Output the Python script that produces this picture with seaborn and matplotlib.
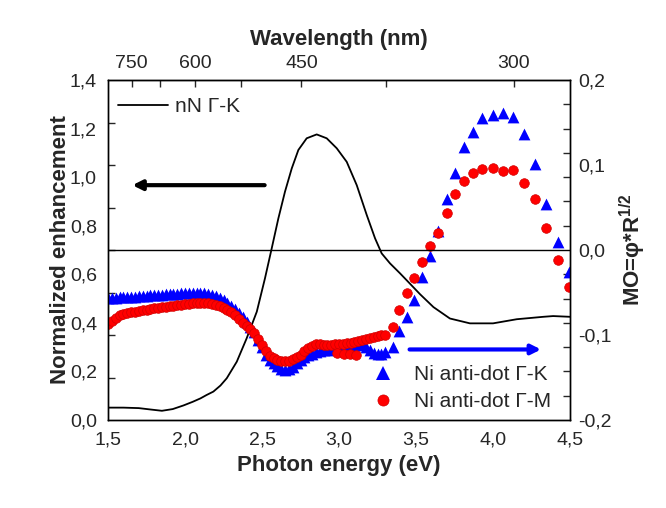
import numpy as np
import seaborn as sns
import matplotlib.pyplot as plt
from matplotlib.lines import Line2D
from matplotlib.ticker import FuncFormatter, FixedLocator, MultipleLocator

# black curve, nN Г-K, normalized enhancement (left axis)
e_black = [1.50, 1.60, 1.70, 1.78, 1.85, 1.92, 1.99, 2.05, 2.10, 2.14, 2.184, 2.23,
           2.271, 2.336, 2.40, 2.466, 2.519, 2.563, 2.606, 2.649, 2.693, 2.736, 2.79,
           2.855, 2.92, 2.985, 3.05, 3.115, 3.18, 3.234, 3.277, 3.331, 3.396, 3.44,
           3.526, 3.613, 3.72, 3.85, 4.00, 4.154, 4.327, 4.39, 4.50]
enh_black = [0.051, 0.051, 0.049, 0.043, 0.038, 0.045, 0.060, 0.075, 0.089, 0.103, 0.117, 0.142,
             0.172, 0.240, 0.336, 0.446, 0.583, 0.707, 0.830, 0.940, 1.036, 1.112, 1.160,
             1.176, 1.160, 1.119, 1.063, 0.967, 0.844, 0.748, 0.686, 0.645, 0.604, 0.575,
             0.518, 0.465, 0.418, 0.398, 0.398, 0.415, 0.425, 0.428, 0.425]

# dense part of the MO data (1.5 - 3.275 eV)
e_dense = [1.500, 1.525, 1.550, 1.575, 1.600, 1.625, 1.650, 1.675, 1.700, 1.725, 1.750, 1.775,
           1.800, 1.825, 1.850, 1.875, 1.900, 1.925, 1.950, 1.975, 2.000, 2.025, 2.050, 2.075,
           2.100, 2.125, 2.150, 2.175, 2.200, 2.225, 2.250, 2.275, 2.300, 2.325, 2.350, 2.375,
           2.400, 2.425, 2.450, 2.475, 2.500, 2.525, 2.550, 2.575, 2.600, 2.625, 2.650, 2.675,
           2.700, 2.725, 2.750, 2.775, 2.800, 2.825, 2.850, 2.875, 2.900, 2.925, 2.950, 2.975,
           3.000, 3.025, 3.050, 3.075, 3.100, 3.125, 3.150, 3.175, 3.200, 3.225, 3.250, 3.275]
mo_k_dense = [-0.0560, -0.0560, -0.0560, -0.0558, -0.0555, -0.0552, -0.0550, -0.0548, -0.0545, -0.0542, -0.0540, -0.0535,
              -0.0532, -0.0530, -0.0525, -0.0520, -0.0518, -0.0515, -0.0512, -0.0510, -0.0508, -0.0506, -0.0505, -0.0505,
              -0.0506, -0.0510, -0.0518, -0.0530, -0.0545, -0.0565, -0.0590, -0.0620, -0.0655, -0.0695, -0.0740, -0.0790,
              -0.0845, -0.0900, -0.0970, -0.1060, -0.1145, -0.1235, -0.1295, -0.1335, -0.1370, -0.1395, -0.1410, -0.1405,
              -0.1375, -0.1330, -0.1290, -0.1260, -0.1235, -0.1220, -0.1205, -0.1190, -0.1180, -0.1175, -0.1170, -0.1165,
              -0.1160, -0.1155, -0.1150, -0.1130, -0.1115, -0.1110, -0.1120, -0.1140, -0.1180, -0.1210, -0.1225, -0.1220]
mo_m_dense = [-0.0870, -0.0840, -0.0800, -0.0765, -0.0755, -0.0745, -0.0735, -0.0725, -0.0718, -0.0710, -0.0702, -0.0695,
              -0.0688, -0.0680, -0.0672, -0.0665, -0.0660, -0.0655, -0.0650, -0.0642, -0.0635, -0.0630, -0.0625, -0.0620,
              -0.0620, -0.0620, -0.0625, -0.0635, -0.0645, -0.0660, -0.0680, -0.0705, -0.0735, -0.0770, -0.0810, -0.0855,
              -0.0895, -0.0935, -0.0980, -0.1045, -0.1120, -0.1190, -0.1245, -0.1270, -0.1295, -0.1308, -0.1310, -0.1300,
              -0.1285, -0.1260, -0.1230, -0.1190, -0.1155, -0.1130, -0.1110, -0.1110, -0.1115, -0.1120, -0.1115, -0.1105,
              -0.1105, -0.1100, -0.1095, -0.1090, -0.1080, -0.1065, -0.1055, -0.1048, -0.1040, -0.1025, -0.1010, -0.1000]

# sparse part (5 nm steps)
e_sparse = [3.299, 3.349, 3.392, 3.440, 3.487, 3.539, 3.591, 3.643, 3.699, 3.753, 3.812,
            3.870, 3.931, 3.998, 4.063, 4.128, 4.199, 4.271, 4.346, 4.424, 4.496]
mo_k_sparse = [-0.1200, -0.1145, -0.0948, -0.0790, -0.0588, -0.0315, -0.0073, 0.0227, 0.0600, 0.0910, 0.1217,
               0.1390, 0.1557, 0.1585, 0.1616, 0.1569, 0.1370, 0.1015, 0.0536, 0.0097, -0.0263]
mo_m_sparse = [-0.0995, -0.0900, -0.0710, -0.0508, -0.0330, -0.0145, 0.0045, 0.0200, 0.0433, 0.0655, 0.0813,
               0.0904, 0.0955, 0.0959, 0.0928, 0.0940, 0.0786, 0.0600, 0.0260, -0.0116, -0.0440]

# a few Г-M points lying below the main branch around 3.0-3.1 eV
e_m_extra = [2.985, 3.030, 3.070, 3.110]
mo_m_extra = [-0.1210, -0.1220, -0.1225, -0.1235]

wl_major = [750, 600, 450, 300]
wl_minor = [675, 525, 375]

sns.set_style('white')
plt.rcParams['font.family'] = ['Liberation Sans', 'DejaVu Sans']
plt.rcParams['mathtext.fontset'] = 'custom'
plt.rcParams['mathtext.rm'] = 'Liberation Sans'
plt.rcParams['mathtext.bf'] = 'Liberation Sans:bold'

fig = plt.figure(figsize=(6.66, 5.08), dpi=100)
ax = fig.add_axes([0.1622, 0.1732, 0.6937, 0.6693])
ax2 = ax.twinx()

sns.lineplot(x=e_black, y=enh_black, ax=ax, color='black', lw=1.3)
ax2.axhline(0, color='black', lw=1)

e_k = e_dense + e_sparse
mo_k = mo_k_dense + mo_k_sparse
e_m = e_dense + e_sparse + e_m_extra
mo_m = mo_m_dense + mo_m_sparse + mo_m_extra

sns.scatterplot(x=e_k, y=mo_k, ax=ax2, marker='^', color='#0000ff', s=72, linewidth=0)
sns.scatterplot(x=e_m, y=mo_m, ax=ax2, marker='o', color='#ff0000', s=48,
                edgecolor='#d00000', linewidth=0.5)

ax.set_xlim(1.5, 4.5)
ax.set_ylim(0, 1.4)
ax2.set_ylim(-0.2, 0.2)

comma = FuncFormatter(lambda v, p: f'{v:.1f}'.replace('.', ','))

ax.xaxis.set_major_locator(MultipleLocator(0.5))
ax.xaxis.set_minor_locator(MultipleLocator(0.25))
ax.xaxis.set_major_formatter(comma)
ax.tick_params(axis='x', which='both', direction='in', length=5, width=1, labelsize=14, pad=8, top=False)

ax.set_yticks(np.arange(0, 1.41, 0.2))
ax.yaxis.set_major_formatter(comma)
ax.yaxis.set_minor_locator(FixedLocator(np.linspace(0, 1.4, 9)))
ax.tick_params(axis='y', which='major', length=0, labelsize=14, pad=8)
ax.tick_params(axis='y', which='minor', direction='in', length=5, width=1)

ax2.set_yticks(np.arange(-0.2, 0.21, 0.1))
ax2.yaxis.set_major_formatter(comma)
ax2.yaxis.set_minor_locator(FixedLocator(np.linspace(-0.2, 0.2, 15)))
ax2.tick_params(axis='y', which='major', length=0, labelsize=14, pad=6)
ax2.tick_params(axis='y', which='minor', direction='in', length=5, width=1)

top = ax.secondary_xaxis('top')
top.set_xticks([1240 / w for w in wl_major], [str(w) for w in wl_major])
top.xaxis.set_minor_locator(FixedLocator([1240 / w for w in wl_minor]))
top.tick_params(axis='x', which='both', direction='in', length=5, width=1, labelsize=14, pad=6)
top.set_xlabel('Wavelength (nm)', fontsize=16, fontweight='bold', labelpad=7)

for a in (ax, ax2):
    for s in a.spines.values():
        s.set_color('black')
        s.set_linewidth(1)

ax.set_xlabel('Photon energy (eV)', fontsize=16, fontweight='bold', labelpad=5)
ax.set_ylabel('Normalized enhancement', fontsize=16, fontweight='bold', labelpad=-1)
ax2.set_ylabel(r'MO=φ*R$^{\mathbf{1/2}}$', fontsize=16, fontweight='bold', labelpad=4)

# arrows pointing to the relevant axis
ax.annotate('', xy=(1.64, 0.967), xytext=(2.535, 0.967),
            arrowprops=dict(arrowstyle='-|>', color='black', lw=3, mutation_scale=14))
ax2.annotate('', xy=(4.33, -0.117), xytext=(3.44, -0.117),
             arrowprops=dict(arrowstyle='-|>', color='#0000ff', lw=3, mutation_scale=14))

leg1 = ax2.legend(handles=[Line2D([], [], color='black', lw=1.3, label='nN Γ-K')],
                  loc='upper left', bbox_to_anchor=(-0.02, 1.005), frameon=False,
                  fontsize=15, handlelength=2.4, handletextpad=0.35)
ax2.add_artist(leg1)
h_k = Line2D([], [], ls='none', marker='^', color='#0000ff', markersize=9.5, markeredgewidth=0)
h_m = Line2D([], [], ls='none', marker='o', color='#ff0000', markeredgecolor='#d00000',
             markersize=8, markeredgewidth=0.5)
ax2.legend(handles=[h_k, h_m], labels=['Ni anti-dot Γ-K', 'Ni anti-dot Γ-M'],
           loc='lower right', bbox_to_anchor=(1.0, -0.03), frameon=False,
           fontsize=15, handlelength=1.0, handletextpad=1.0, labelspacing=0.4)

fig.savefig('out.png', dpi=100)
